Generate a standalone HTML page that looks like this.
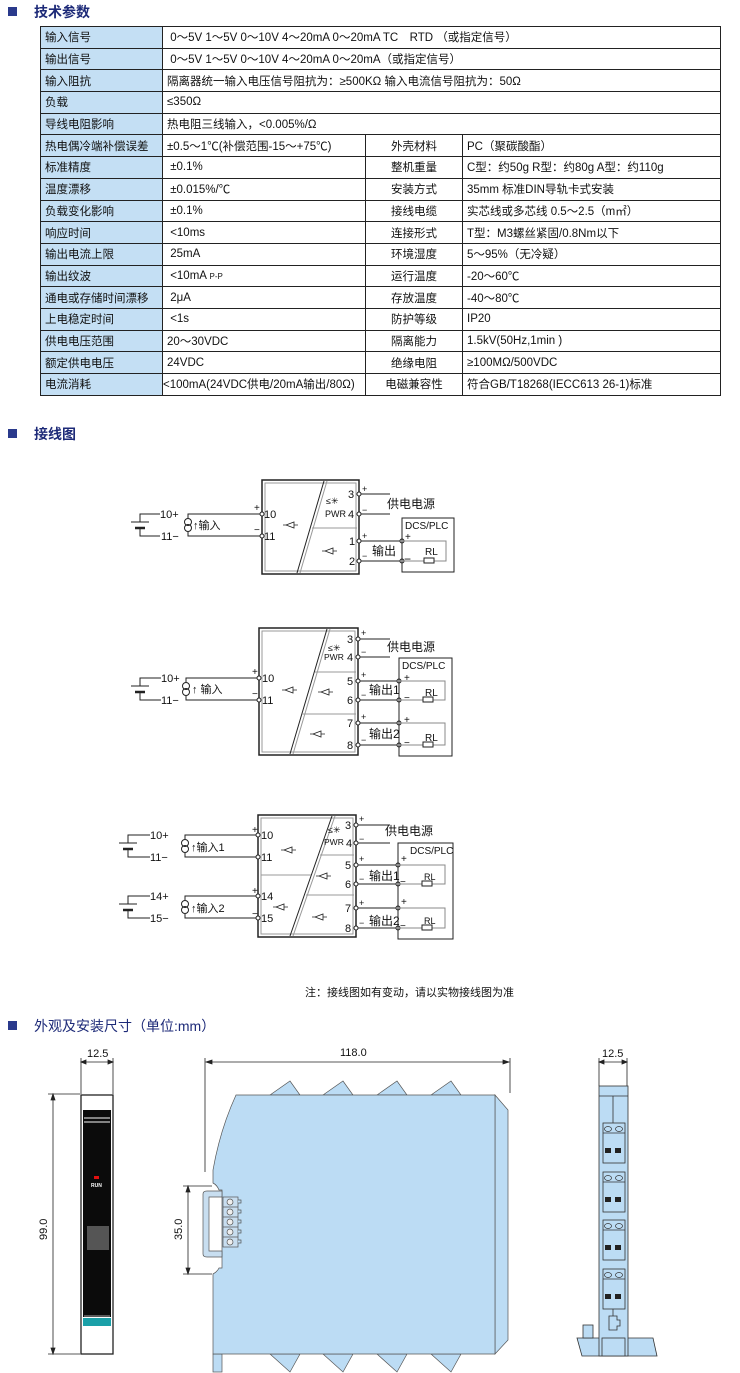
<!DOCTYPE html>
<html><head><meta charset="utf-8">
<style>
body{margin:0;background:#fff;width:740px;height:1373px;position:relative;overflow:hidden;font-family:"Liberation Sans","Noto Sans CJK SC",sans-serif;}
.h{position:absolute;left:8px;font-size:14px;color:#1d2a78;font-weight:bold;}
.h i{display:inline-block;width:9px;height:9px;background:#2a3a8c;margin-right:17px;vertical-align:1px;}
table{position:absolute;left:40px;top:26px;border-collapse:collapse;font-size:11.5px;}
td{border:1px solid #222;height:20.7px;padding:0 0 0 4px;white-space:nowrap;color:#111;}
td.l{background:#c4dff4;width:117px;}
td.m{text-align:center;width:93px;padding:0;}
svg{position:absolute;left:0;top:0;}
</style></head><body>
<div class="h" style="top:2px"><i></i>技术参数</div>
<div class="h" style="top:424px"><i></i>接线图</div>
<div class="h" style="top:1016px;font-weight:normal"><i></i>外观及安装尺寸（单位:mm）</div>
<table>
<colgroup><col style="width:122px"><col style="width:203px"><col style="width:97px"><col style="width:258px"></colgroup>
<tr><td class="l">输入信号</td><td colspan="3">&nbsp;0～5V 1～5V 0～10V 4～20mA 0～20mA TC　RTD （或指定信号）</td></tr>
<tr><td class="l">输出信号</td><td colspan="3">&nbsp;0～5V 1～5V 0～10V 4～20mA 0～20mA（或指定信号）</td></tr>
<tr><td class="l">输入阻抗</td><td colspan="3">隔离器统一输入电压信号阻抗为：≥500KΩ 输入电流信号阻抗为：50Ω</td></tr>
<tr><td class="l">负载</td><td colspan="3">≤350Ω</td></tr>
<tr><td class="l">导线电阻影响</td><td colspan="3">热电阻三线输入，<0.005%/Ω</td></tr>
<tr><td class="l">热电偶冷端补偿误差</td><td>±0.5～1℃(补偿范围-15～+75℃)</td><td class="m">外壳材料</td><td>PC（聚碳酸酯）</td></tr>
<tr><td class="l">标准精度</td><td>&nbsp;±0.1%</td><td class="m">整机重量</td><td>C型：约50g R型：约80g A型：约110g</td></tr>
<tr><td class="l">温度漂移</td><td>&nbsp;±0.015%/℃</td><td class="m">安装方式</td><td>35mm 标准DIN导轨卡式安装</td></tr>
<tr><td class="l">负载变化影响</td><td>&nbsp;±0.1%</td><td class="m">接线电缆</td><td>实芯线或多芯线 0.5～2.5（m㎡）</td></tr>
<tr><td class="l">响应时间</td><td>&nbsp;<10ms</td><td class="m">连接形式</td><td>T型：M3螺丝紧固/0.8Nm以下</td></tr>
<tr><td class="l">输出电流上限</td><td>&nbsp;25mA</td><td class="m">环境湿度</td><td>5～95%（无冷疑）</td></tr>
<tr><td class="l">输出纹波</td><td>&nbsp;<10mA <span style="font-size:8px">P-P</span></td><td class="m">运行温度</td><td>-20～60℃</td></tr>
<tr><td class="l">通电或存储时间漂移</td><td>&nbsp;2μA</td><td class="m">存放温度</td><td>-40～80℃</td></tr>
<tr><td class="l">上电稳定时间</td><td>&nbsp;<1s</td><td class="m">防护等级</td><td>IP20</td></tr>
<tr><td class="l">供电电压范围</td><td>20～30VDC</td><td class="m">隔离能力</td><td>1.5kV(50Hz,1min )</td></tr>
<tr><td class="l">额定供电电压</td><td>24VDC</td><td class="m">绝缘电阻</td><td>≥100MΩ/500VDC</td></tr>
<tr><td class="l">电流消耗</td><td style="padding:0">&lt;100mA(24VDC供电/20mA输出/80Ω)</td><td class="m">电磁兼容性</td><td>符合GB/T18268(IECC613 26-1)标准</td></tr>
</table>

<svg width="740" height="1373" viewBox="0 0 740 1373" font-family="Liberation Sans,Noto Sans CJK SC,sans-serif" font-size="11" fill="none" stroke="#222" stroke-width="1">
<defs>
<g id="bat"><line x1="-9" y1="-3" x2="9" y2="-3"/><line x1="-5" y1="3" x2="5" y2="3" stroke-width="2.5"/></g>
<g id="cs"><circle cx="0" cy="-3" r="3.5"/><circle cx="0" cy="3" r="3.5"/></g>
<g id="tri"><path d="M-5 0 L3 -3 L3 3 Z M-8 0 H-5 M3 0 H7" stroke-width="0.8"/></g>
</defs>

<!-- ===== Diagram 1 ===== -->
<g>
<rect x="262" y="480" width="97" height="94" stroke-width="1.5"/>
<rect x="265" y="483" width="91" height="88" stroke="#999"/>
<line x1="324" y1="481" x2="297" y2="573" stroke-width="1"/><line x1="327" y1="481" x2="300" y2="573" stroke="#999"/>
<line x1="312" y1="528" x2="357" y2="528" stroke="#999"/>
<use href="#tri" x="291" y="525"/><use href="#tri" x="330" y="551"/>
<g fill="#fff"><circle cx="359" cy="494" r="2"/><circle cx="359" cy="514" r="2"/><circle cx="262" cy="514" r="2"/><circle cx="262" cy="536" r="2"/><circle cx="359" cy="541" r="2"/><circle cx="359" cy="561" r="2"/><circle cx="402" cy="541" r="2"/><circle cx="402" cy="561" r="2"/></g>
<path d="M361 494 H390 M361 514 H390 M361 541 H400 M361 561 H400"/>
<rect x="402" y="518" width="52" height="54"/>
<path d="M404 541 H446 V561 H434 M404 561 H424" stroke="#888"/><rect x="424" y="558" width="10" height="5"/>
<path d="M260 514 H188 V518 M188 532 V536 H260"/><use href="#cs" x="188" y="525"/>
<path d="M160 514 H140 V522 M140 528 V536 H160"/><use href="#bat" x="140" y="525"/>
<g fill="#111" stroke="none">
<text x="160" y="518">10+</text><text x="161" y="540">11−</text><text x="193" y="529">↑输入</text>
<text x="254" y="511" font-size="10">+</text><text x="254" y="533" font-size="10">−</text>
<text x="264" y="518">10</text><text x="264" y="540">11</text>
<text x="348" y="498">3</text><text x="348" y="518">4</text><text x="349" y="545">1</text><text x="349" y="565">2</text>
<text x="326" y="504" font-size="9">≤✳</text><text x="325" y="517" font-size="9">PWR</text>
<text x="362" y="492" font-size="9">+</text><text x="362" y="513" font-size="9">−</text><text x="362" y="539" font-size="9">+</text><text x="362" y="559" font-size="9">−</text>
<text x="387" y="508" font-size="12">供电电源</text><text x="405" y="529" font-size="10">DCS/PLC</text>
<text x="372" y="555" font-size="12">输出</text><text x="405" y="540" font-size="10">+</text><text x="404" y="563" font-size="12">−</text><text x="425" y="555" font-size="10">RL</text>
</g>
</g>

<!-- ===== Diagram 2 ===== -->
<g>
<rect x="259" y="628" width="99" height="127" stroke-width="1.5"/>
<rect x="262" y="631" width="93" height="121" stroke="#999"/>
<line x1="327" y1="629" x2="290" y2="754"/><line x1="330" y1="629" x2="293" y2="754" stroke="#999"/>
<line x1="315" y1="672" x2="356" y2="672" stroke="#999"/><line x1="302" y1="714" x2="356" y2="714" stroke="#999"/>
<use href="#tri" x="290" y="690"/><use href="#tri" x="326" y="692"/><use href="#tri" x="318" y="734"/>
<g fill="#fff"><circle cx="358" cy="639" r="2"/><circle cx="358" cy="657" r="2"/><circle cx="259" cy="678" r="2"/><circle cx="259" cy="700" r="2"/><circle cx="358" cy="681" r="2"/><circle cx="358" cy="700" r="2"/><circle cx="358" cy="723" r="2"/><circle cx="358" cy="745" r="2"/><circle cx="399" cy="681" r="2"/><circle cx="399" cy="700" r="2"/><circle cx="399" cy="723" r="2"/><circle cx="399" cy="745" r="2"/></g>
<path d="M360 639 H390 M360 657 H390 M360 681 H397 M360 700 H397 M360 723 H397 M360 745 H397 M399 683 V698 M399 702 V721 M399 725 V743"/>
<rect x="399" y="658" width="53" height="98"/>
<path d="M401 681 H445 V700 H433 M401 700 H423 M401 723 H445 V745 H433 M401 745 H423" stroke="#888"/><rect x="423" y="697" width="10" height="5"/><rect x="423" y="742" width="10" height="5"/>
<path d="M257 678 H186 V682 M186 696 V700 H257"/><use href="#cs" x="186" y="689"/>
<path d="M161 678 H140 V686 M140 692 V700 H161"/><use href="#bat" x="140" y="689"/>
<g fill="#111" stroke="none">
<text x="161" y="682">10+</text><text x="161" y="704">11−</text><text x="192" y="693">↑ 输入</text>
<text x="252" y="675" font-size="10">+</text><text x="252" y="697" font-size="10">−</text>
<text x="262" y="682">10</text><text x="262" y="704">11</text>
<text x="347" y="643">3</text><text x="347" y="661">4</text><text x="347" y="685">5</text><text x="347" y="704">6</text><text x="347" y="727">7</text><text x="347" y="749">8</text>
<text x="328" y="651" font-size="9">≤✳</text><text x="324" y="660" font-size="8.5">PWR</text>
<text x="361" y="636" font-size="9">+</text><text x="361" y="655" font-size="9">−</text><text x="361" y="678" font-size="9">+</text><text x="361" y="698" font-size="9">−</text><text x="361" y="720" font-size="9">+</text><text x="361" y="743" font-size="9">−</text>
<text x="387" y="651" font-size="12">供电电源</text><text x="402" y="669" font-size="10">DCS/PLC</text>
<text x="369" y="694" font-size="12">输出1</text><text x="369" y="738" font-size="12">输出2</text>
<text x="404" y="681" font-size="10">+</text><text x="404" y="701" font-size="10">−</text><text x="404" y="723" font-size="10">+</text><text x="404" y="746" font-size="10">−</text>
<text x="425" y="696" font-size="10">RL</text><text x="425" y="741" font-size="10">RL</text>
</g>
</g>

<!-- ===== Diagram 3 ===== -->
<g>
<rect x="258" y="815" width="98" height="122" stroke-width="1.5"/>
<rect x="261" y="818" width="92" height="116" stroke="#999"/>
<line x1="332" y1="816" x2="290" y2="936"/><line x1="335" y1="816" x2="293" y2="936" stroke="#999"/>
<line x1="261" y1="875" x2="311" y2="875" stroke="#999"/><line x1="320" y1="855" x2="354" y2="855" stroke="#999"/><line x1="306" y1="895" x2="354" y2="895" stroke="#999"/>
<use href="#tri" x="289" y="850"/><use href="#tri" x="281" y="907"/><use href="#tri" x="324" y="876"/><use href="#tri" x="320" y="917"/>
<g fill="#fff"><circle cx="356" cy="825" r="2"/><circle cx="356" cy="843" r="2"/><circle cx="258" cy="835" r="2"/><circle cx="258" cy="857" r="2"/><circle cx="258" cy="896" r="2"/><circle cx="258" cy="918" r="2"/><circle cx="356" cy="865" r="2"/><circle cx="356" cy="884" r="2"/><circle cx="356" cy="908" r="2"/><circle cx="356" cy="928" r="2"/><circle cx="398" cy="865" r="2"/><circle cx="398" cy="884" r="2"/><circle cx="398" cy="908" r="2"/><circle cx="398" cy="928" r="2"/></g>
<path d="M358 825 H390 M358 843 H390 M358 865 H396 M358 884 H396 M358 908 H396 M358 928 H396 M398 867 V882 M398 886 V906 M398 910 V926"/>
<rect x="398" y="843" width="55" height="96"/>
<path d="M400 865 H445 V884 H432 M400 884 H422 M400 908 H445 V928 H432 M400 928 H422" stroke="#888"/><rect x="422" y="881" width="10" height="5"/><rect x="422" y="925" width="10" height="5"/>
<path d="M256 835 H185 V839 M185 853 V857 H256 M256 896 H185 V900 M185 914 V918 H256"/><use href="#cs" x="185" y="846"/><use href="#cs" x="185" y="907"/>
<path d="M150 835 H128 V843 M128 849 V857 H150 M150 896 H128 V904 M128 910 V918 H150"/><use href="#bat" x="128" y="846"/><use href="#bat" x="128" y="907"/>
<g fill="#111" stroke="none">
<text x="150" y="839">10+</text><text x="150" y="861">11−</text><text x="150" y="900">14+</text><text x="150" y="922">15−</text>
<text x="191" y="851">↑输入1</text><text x="191" y="912">↑输入2</text>
<text x="252" y="833" font-size="10">+</text><text x="252" y="894" font-size="10">+</text><text x="252" y="917" font-size="10">−</text>
<text x="261" y="839">10</text><text x="261" y="861">11</text><text x="261" y="900">14</text><text x="261" y="922">15</text>
<text x="345" y="829">3</text><text x="346" y="847">4</text><text x="345" y="869">5</text><text x="345" y="888">6</text><text x="345" y="912">7</text><text x="345" y="932">8</text>
<text x="328" y="833" font-size="9">≤✳</text><text x="324" y="845" font-size="8.5">PWR</text>
<text x="359" y="822" font-size="9">+</text><text x="359" y="842" font-size="9">−</text><text x="359" y="862" font-size="9">+</text><text x="359" y="882" font-size="9">−</text><text x="359" y="906" font-size="9">+</text><text x="359" y="926" font-size="9">−</text>
<text x="385" y="835" font-size="12">供电电源</text><text x="410" y="854" font-size="10">DCS/PLC</text>
<text x="369" y="880" font-size="12">输出1</text><text x="369" y="925" font-size="12">输出2</text>
<text x="401" y="862" font-size="10">+</text><text x="400" y="885" font-size="10">−</text><text x="401" y="905" font-size="10">+</text><text x="400" y="929" font-size="10">−</text>
<text x="424" y="880" font-size="9">RL</text><text x="424" y="924" font-size="9">RL</text>
</g>
</g>
<text x="305" y="996" fill="#111" stroke="none" font-size="11">注：接线图如有变动，请以实物接线图为准</text>

<!-- ===== Front view ===== -->
<g stroke="#222" stroke-width="0.8">
<line x1="81" y1="1058" x2="81" y2="1094"/><line x1="113" y1="1058" x2="113" y2="1094"/>
<path d="M81 1062 H113 M81 1062 l5 -2 v4 z M113 1062 l-5 -2 v4 z" fill="#222"/>
<line x1="48" y1="1094" x2="80" y2="1094"/><line x1="48" y1="1354" x2="80" y2="1354"/>
<path d="M53 1094 V1354 M53 1094 l-2 6 h4 z M53 1354 l-2 -6 h4 z" fill="#222"/>
</g>
<text x="87" y="1057" fill="#111" stroke="none" font-size="11">12.5</text>
<text transform="translate(47 1240) rotate(-90)" fill="#111" stroke="none" font-size="11">99.0</text>
<rect x="81" y="1095" width="32" height="259" fill="#fff" stroke="#222" stroke-width="1.3"/>
<rect x="83" y="1110" width="28" height="207" fill="#0b0b0b" stroke="none"/>
<line x1="84" y1="1118" x2="110" y2="1118" stroke="#aaa" stroke-width="1.5"/><line x1="84" y1="1122" x2="110" y2="1122" stroke="#aaa" stroke-width="1.5"/>
<rect x="94" y="1176" width="5" height="3" fill="#e01010" stroke="none"/>
<text x="91" y="1187" fill="#fff" stroke="none" font-size="5" font-weight="bold">RUN</text>
<rect x="87" y="1226" width="22" height="24" fill="#555" stroke="none"/>
<line x1="84" y1="1316" x2="110" y2="1316" stroke="#aaa"/>
<rect x="83" y="1318" width="28" height="8" fill="#1aa0a8" stroke="none"/>

<!-- ===== Side view ===== -->
<g stroke="#222" stroke-width="0.8">
<line x1="205" y1="1058" x2="205" y2="1172"/><line x1="510" y1="1058" x2="510" y2="1093"/>
<path d="M206 1062 H509 M206 1062 l6 -2 v4 z M509 1062 l-6 -2 v4 z" fill="#222"/>
<line x1="183" y1="1186" x2="212" y2="1186"/><line x1="183" y1="1274" x2="212" y2="1274"/>
<path d="M188 1186 V1274 M188 1186 l-2 6 h4 z M188 1274 l-2 -6 h4 z" fill="#222"/>
</g>
<text x="340" y="1056" fill="#111" stroke="none" font-size="11">118.0</text>
<text transform="translate(182 1240) rotate(-90)" fill="#111" stroke="none" font-size="11">35.0</text>
<g fill="#bcdcf4" stroke="#555" stroke-width="0.7">
<path d="M270 1095 L290 1081 L300 1095 Z M323 1095 L343 1081 L353 1095 Z M377 1095 L397 1081 L407 1095 Z M431 1095 L451 1081 L461 1095 Z"/>
<path d="M270 1354 L290 1372 L300 1354 Z M323 1354 L343 1372 L353 1354 Z M377 1354 L397 1372 L407 1354 Z M431 1354 L451 1372 L461 1354 Z"/>
<rect x="213" y="1354" width="9" height="18"/>
<path d="M495 1095 L508 1110 L508 1340 L495 1354 Z"/>
<path d="M236 1095 H495 V1354 H213 V1274 Q217 1272 219 1268 L222 1268 L222 1190 L219 1190 Q217 1185 213 1183 L213 1170 Q220 1130 236 1095 Z"/>
<path d="M203 1194 Q203 1191 207 1191 H222 V1197 H209 V1251 H222 V1257 H207 Q203 1257 203 1254 Z" fill="#c8def0"/>
<rect x="223" y="1197" width="15" height="50" fill="#c8def0"/>
<g fill="#eee"><circle cx="230" cy="1202" r="3"/><circle cx="230" cy="1212" r="3"/><circle cx="230" cy="1222" r="3"/><circle cx="230" cy="1232" r="3"/><circle cx="230" cy="1242" r="3"/></g>
<path d="M223 1207 H238 M223 1217 H238 M223 1227 H238 M223 1237 H238 M238 1200 h3 v3 h-3 M238 1210 h3 v3 h-3 M238 1220 h3 v3 h-3 M238 1230 h3 v3 h-3 M238 1240 h3 v3 h-3"/>
</g>

<!-- ===== Right view ===== -->
<g stroke="#222" stroke-width="0.8">
<line x1="599" y1="1058" x2="599" y2="1086"/><line x1="627" y1="1058" x2="627" y2="1086"/>
<path d="M599 1062 H627 M599 1062 l5 -2 v4 z M627 1062 l-5 -2 v4 z" fill="#222"/>
</g>
<text x="602" y="1057" fill="#111" stroke="none" font-size="11">12.5</text>
<g fill="#bcdcf4" stroke="#333" stroke-width="0.8">
<path d="M577 1338 H653 L657 1356 H582 Z"/>
<rect x="583" y="1325" width="10" height="13"/>
<rect x="599" y="1086" width="29" height="270"/>
<line x1="599" y1="1096" x2="628" y2="1096"/>
<line x1="613" y1="1096" x2="613" y2="1123"/>
<rect x="603" y="1123" width="22" height="40"/><rect x="603" y="1172" width="22" height="40"/><rect x="603" y="1220" width="22" height="40"/><rect x="603" y="1269" width="22" height="40"/>
<line x1="613" y1="1309" x2="613" y2="1316"/>
<path d="M609 1316 H617 V1320 H620 V1326 H617 V1330 H609 Z"/>
<rect x="602" y="1338" width="23" height="18"/>
</g>
<g fill="#222" stroke="none">
<rect x="605" y="1148" width="6" height="5"/><rect x="615" y="1148" width="6" height="5"/>
<rect x="605" y="1197" width="6" height="5"/><rect x="615" y="1197" width="6" height="5"/>
<rect x="605" y="1245" width="6" height="5"/><rect x="615" y="1245" width="6" height="5"/>
<rect x="605" y="1294" width="6" height="5"/><rect x="615" y="1294" width="6" height="5"/>
</g>
<g fill="none" stroke="#333" stroke-width="0.7">
<ellipse cx="608" cy="1129" rx="3.5" ry="2.5"/><ellipse cx="619" cy="1129" rx="3.5" ry="2.5"/>
<ellipse cx="608" cy="1178" rx="3.5" ry="2.5"/><ellipse cx="619" cy="1178" rx="3.5" ry="2.5"/>
<ellipse cx="608" cy="1226" rx="3.5" ry="2.5"/><ellipse cx="619" cy="1226" rx="3.5" ry="2.5"/>
<ellipse cx="608" cy="1275" rx="3.5" ry="2.5"/><ellipse cx="619" cy="1275" rx="3.5" ry="2.5"/>
<path d="M603 1133 H625 M603 1182 H625 M603 1230 H625 M603 1279 H625"/>
</g>
</svg>
</body></html>
